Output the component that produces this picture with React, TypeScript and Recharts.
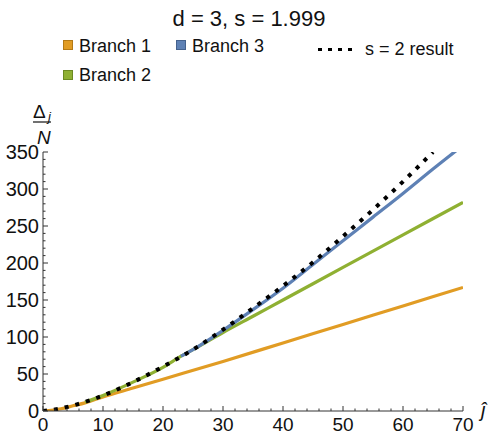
import React from 'react';
import { LineChart, Line, XAxis, YAxis, Legend } from 'recharts';

const chartTitle = 'd = 3, s = 1.999';
const seriesNames = ['Branch 1', 'Branch 2', 'Branch 3', 's = 2 result'];
const seriesColors = ['#E19C24', '#8FB032', '#5E81B5', '#000000'];

// Branch 1 (orange)
const branch1J = [0, 3, 5, 7, 10, 15, 20, 30, 40, 50, 60, 70];
const branch1V = [0, 3, 7, 11, 19, 31, 43, 67, 92, 117, 142, 167];
// Branch 2 (green)
const branch2J = [7, 10, 15, 20, 23, 25, 30, 35, 40, 50, 60, 70];
const branch2V = [12, 21, 39, 59, 74, 83, 106, 128, 150, 194, 238, 282];
// Branch 3 (blue)
const branch3J = [23, 25, 30, 35, 40, 45, 50, 55, 60, 65, 70];
const branch3V = [74, 83, 109, 137, 166, 198, 230, 262, 294, 327, 359];
// s = 2 result (black dotted)
const s2J = [0, 2, 5, 10, 15, 20, 25, 30, 35, 40, 45, 50, 55, 60, 65];
const s2V = [0, 2, 7.5, 21, 39, 60, 83, 110, 139, 169, 201, 236, 272, 310, 350];

const xTickLabels = [0, 10, 20, 30, 40, 50, 60, 70];
const yTickLabels = [0, 50, 100, 150, 200, 250, 300, 350];

const subdivide = (majors: number[], parts: number) => {
  const out: number[] = [];
  for (let i = 0; i < majors.length - 1; i++) {
    const step = (majors[i + 1] - majors[i]) / parts;
    for (let k = 0; k < parts; k++) out.push(majors[i] + k * step);
  }
  out.push(majors[majors.length - 1]);
  return out;
};
const xTicks = subdivide(xTickLabels, 5);
const yTicks = subdivide(yTickLabels, 5);

const toPoints = (js: number[], vs: number[]) => js.map((j, i) => ({ j, v: vs[i] }));
const data1 = toPoints(branch1J, branch1V);
const data2 = toPoints(branch2J, branch2V);
const data3 = toPoints(branch3J, branch3V);
const dataS2 = toPoints(s2J, s2V);

const FONT = '"Liberation Sans", Arial, sans-serif';
const AXIS = '#333333';

const XTick = (props: any) => {
  const { x, y, payload } = props;
  const v = payload.value;
  const major = xTickLabels.includes(v);
  return (
    <g>
      <line x1={x} x2={x} y1={y} y2={y - (major ? 5 : 2.5)} stroke={AXIS} strokeWidth={1} />
      {major && (
        <text x={x} y={y + 20} textAnchor="middle" fontSize={19} fontFamily={FONT} fill="#111">
          {v}
        </text>
      )}
    </g>
  );
};

const YTick = (props: any) => {
  const { x, y, payload } = props;
  const v = payload.value;
  const major = yTickLabels.includes(v);
  return (
    <g>
      <line x1={x} x2={x + (major ? 5 : 2.5)} y1={y} y2={y} stroke={AXIS} strokeWidth={1} />
      {major && (
        <text x={x - 4} y={y + 7} textAnchor="end" fontSize={20} fontFamily={FONT} fill="#111">
          {v}
        </text>
      )}
    </g>
  );
};

const darker: Record<string, string> = {
  '#E19C24': '#B47A16',
  '#8FB032': '#6C8A22',
  '#5E81B5': '#45628E',
};

const LegendContent = () => {
  const sq = (x: number, y: number, c: string) => (
    <rect x={x + 0.5} y={y + 0.5} width={9} height={9} fill={c} stroke={darker[c]} strokeWidth={1} />
  );
  return (
    <svg width={492} height={90} style={{ display: 'block' }}>
      {sq(63, 40, seriesColors[0])}
      <text x={79} y={52} fontSize={18} fontFamily={FONT} fill="#111">{seriesNames[0]}</text>
      {sq(176, 40, seriesColors[2])}
      <text x={192} y={52} fontSize={18} fontFamily={FONT} fill="#111">{seriesNames[2]}</text>
      {sq(63, 70, seriesColors[1])}
      <text x={79} y={81} fontSize={18} fontFamily={FONT} fill="#111">{seriesNames[1]}</text>
      <line x1={318} x2={354} y1={49.5} y2={49.5} stroke="#000" strokeWidth={3} strokeDasharray="4 6" />
      <text x={365} y={55} fontSize={18} fontFamily={FONT} fill="#111">{seriesNames[3]}</text>
    </svg>
  );
};

export default function App() {
  return (
    <div style={{ position: 'absolute', left: 0, top: 0, width: 492, height: 433, background: '#fff' }}>
      <LineChart width={492} height={433} margin={{ top: 152, right: 29, bottom: 0, left: 0 }}>
        <XAxis
          dataKey="j"
          type="number"
          domain={[0, 70]}
          ticks={xTicks}
          interval={0}
          height={22}
          tickSize={0}
          tickMargin={0}
          tickLine={false}
          axisLine={{ stroke: AXIS, strokeWidth: 1 }}
          tick={XTick}
          allowDataOverflow
        />
        <YAxis
          type="number"
          domain={[0, 350]}
          ticks={yTicks}
          interval={0}
          width={43}
          tickSize={0}
          tickMargin={0}
          tickLine={false}
          axisLine={{ stroke: AXIS, strokeWidth: 1 }}
          tick={YTick}
          allowDataOverflow
        />
        <Legend
          layout="horizontal"
          verticalAlign="middle"
          align="center"
          content={LegendContent}
          wrapperStyle={{ top: 0, left: 0, width: 492, height: 90 }}
        />
        <Line data={data1} dataKey="v" name={seriesNames[0]} type="monotone" stroke={seriesColors[0]} strokeWidth={3.2} dot={false} isAnimationActive={false} />
        <Line data={data2} dataKey="v" name={seriesNames[1]} type="monotone" stroke={seriesColors[1]} strokeWidth={3.2} dot={false} isAnimationActive={false} />
        <Line data={data3} dataKey="v" name={seriesNames[2]} type="monotone" stroke={seriesColors[2]} strokeWidth={3.2} dot={false} isAnimationActive={false} />
        <Line data={dataS2} dataKey="v" name={seriesNames[3]} type="monotone" stroke={seriesColors[3]} strokeWidth={4} strokeDasharray="4 7" strokeLinecap="butt" dot={false} isAnimationActive={false} />
      </LineChart>
      <svg width={492} height={433} style={{ position: 'absolute', left: 0, top: 0, pointerEvents: 'none' }}>
        <text x={249} y={26} textAnchor="middle" fontSize={22} fontFamily={FONT} fill="#111">{chartTitle}</text>
        <text x={33} y={118} fontSize={19} fontFamily={FONT} fill="#111">Δ</text>
        <text x={48} y={121} fontSize={13} fontStyle="italic" fontFamily={FONT} fill="#111">j</text>
        <line x1={33} x2={51} y1={122} y2={122} stroke="#111" strokeWidth={1.2} />
        <text x={37} y={144} fontSize={19} fontStyle="italic" fontFamily={FONT} fill="#111">N</text>
        <text x={481} y={417} fontSize={20} fontStyle="italic" fontFamily={FONT} fill="#111">ĵ</text>
      </svg>
    </div>
  );
}
